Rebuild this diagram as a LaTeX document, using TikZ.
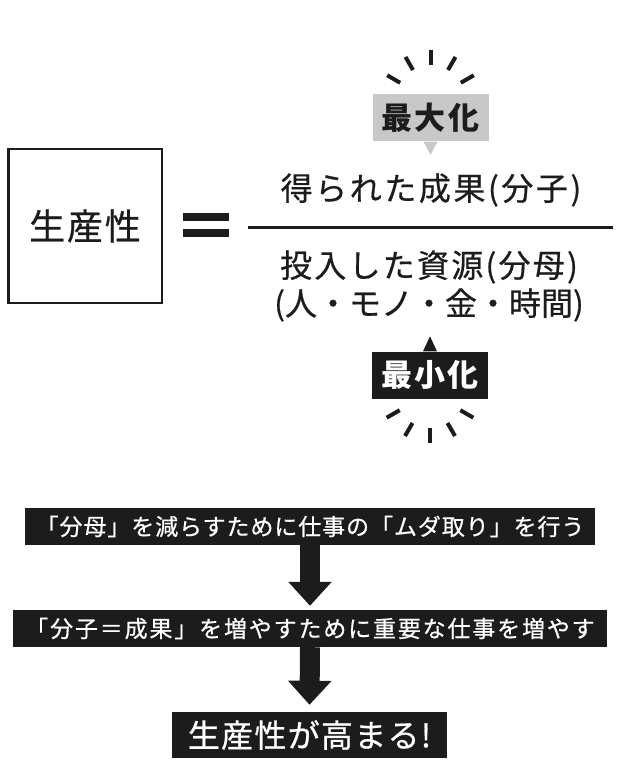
\documentclass[tikz,border=0pt]{standalone}
\usepackage{fontspec}
\setmainfont{Noto Sans CJK JP}
\newfontfamily\medfont{Noto Sans CJK JP}[FakeBold=0.6]
\usetikzlibrary{positioning, arrows.meta, calc}
\definecolor{tagcolor}{RGB}{200, 200, 200}
\definecolor{inkcolor}{RGB}{28, 28, 28}
\newcommand{\spaced}[1]{\addfontfeature{LetterSpace=#1}}

\begin{document}
\begin{tikzpicture}[
  x=1pt, y=-1pt,
  >={Triangle[length=24pt, width=42pt]},
  % --- Styles ---
  probox/.style={
    rectangle, draw=inkcolor, line width=2.5pt,
    minimum width=153.5pt, minimum height=153.5pt, text=inkcolor,
    font=\medfont\fontsize{36}{42}\selectfont\spaced{5}},
  fractext/.style={inner sep=0pt, text=inkcolor,
    font=\medfont\fontsize{32}{38}\selectfont\spaced{#1}},
  fractext/.default=0,
  tagbox/.style={
    rectangle, fill=#1, inner sep=0pt,
    minimum width=116pt, minimum height=47pt,
    font=\bfseries\fontsize{31}{36}\selectfont\spaced{7}},
  stepbox/.style={
    rectangle, fill=inkcolor, text=white, inner sep=0pt,
    minimum height=37pt, font=\medfont\fontsize{23}{28}\selectfont},
  burst/.style={line width=4pt, inkcolor},
  bigarr/.style={->, line width=20pt, inkcolor},
]
\useasboundingbox (0,0) rectangle (622,770);

% === FORMULA ===
\node[probox] (P) at (85,226) {生産性};
\fill[inkcolor] (183,213) rectangle (229,221);
\fill[inkcolor] (183,229) rectangle (229,237);
\coordinate (fl) at (248,227);
\coordinate (fr) at (613,227);
\draw[inkcolor, line width=3pt] (fl) -- (fr);
\node[fractext=8] (N) at (431,190) {得られた成果(分子)};
\node[fractext=7] (D1) at (429,267) {投入した資源(分母)};
\node[fractext] (D2) at (429,305) {(人・モノ・金・時間)};

% === TAGS ===
\node[tagbox=tagcolor, text=inkcolor] (Mx) at (430.5,118) {最大化};
\fill[tagcolor] ([xshift=-7pt]Mx.south) -- ([xshift=7pt]Mx.south)
  -- ([yshift=-13pt]Mx.south) -- cycle;
\node[tagbox=inkcolor, text=white] (Mn) at (430,375) {最小化};
\fill[inkcolor] ([xshift=-7pt]Mn.north) -- ([xshift=7pt]Mn.north)
  -- ([yshift=15pt]Mn.north) -- cycle;
% bursts
\coordinate (bt) at ([yshift=-6pt]Mx.north);
\coordinate (bb) at ([yshift=6pt]Mn.south);
\foreach \a in {30,60,...,150}
  \draw[burst] ($(bt)+(\a:35pt)$) -- ($(bt)+(\a:50pt)$);
\foreach \a in {210,240,...,330}
  \draw[burst] ($(bb)+(\a:35pt)$) -- ($(bb)+(\a:50pt)$);

% === STEPS ===
\node[stepbox, minimum width=570pt] (S1) at (310,526.5)
  {\spaced{4}「分母」を減らすために仕事の「ムダ取り」を行う};
\node[stepbox, minimum width=594pt] (S2) at (310,628.5)
  {\spaced{8}「分子＝成果」を増やすために重要な仕事を増やす};
\node[stepbox, minimum width=275pt, minimum height=46pt,
      font=\medfont\fontsize{32}{38}\selectfont] (S3) at (309.5,735)
  {\spaced{4}生産性が高まる!};
\draw[bigarr] (S1.south) -- ([yshift=4pt]S2.north);
\draw[bigarr] (S2.south) -- ([yshift=7pt]S3.north);
\end{tikzpicture}
\end{document}
